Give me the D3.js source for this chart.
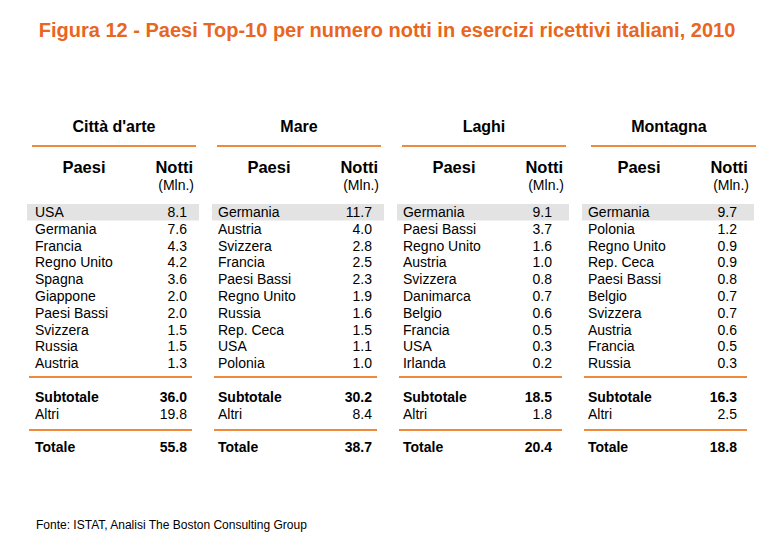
<!DOCTYPE html>
<html><head><meta charset="utf-8">
<script src="https://cdn.jsdelivr.net/npm/d3@7"></script>
<style>body{margin:0;background:#fff}svg{display:block;font-family:"Liberation Sans",Arial,sans-serif}</style>
</head><body>
<svg id="c" width="780" height="540"></svg>
<script>
const title = "Figura 12 - Paesi Top-10 per numero notti in esercizi ricettivi italiani, 2010";
const source = "Fonte: ISTAT, Analisi The Boston Consulting Group";
const panels = ["Città d'arte", "Mare", "Laghi", "Montagna"];
const countries = [
  ["USA","Germania","Francia","Regno Unito","Spagna","Giappone","Paesi Bassi","Svizzera","Russia","Austria"],
  ["Germania","Austria","Svizzera","Francia","Paesi Bassi","Regno Unito","Russia","Rep. Ceca","USA","Polonia"],
  ["Germania","Paesi Bassi","Regno Unito","Austria","Svizzera","Danimarca","Belgio","Francia","USA","Irlanda"],
  ["Germania","Polonia","Regno Unito","Rep. Ceca","Paesi Bassi","Belgio","Svizzera","Austria","Francia","Russia"]
];
const values = [
  [8.1,7.6,4.3,4.2,3.6,2.0,2.0,1.5,1.5,1.3],
  [11.7,4.0,2.8,2.5,2.3,1.9,1.6,1.5,1.1,1.0],
  [9.1,3.7,1.6,1.0,0.8,0.7,0.6,0.5,0.3,0.2],
  [9.7,1.2,0.9,0.9,0.8,0.7,0.7,0.6,0.5,0.3]
];
const subtotals = [36.0,30.2,18.5,16.3];
const altri = [19.8,8.4,1.8,2.5];
const totals = [55.8,38.7,20.4,18.8];

const svg = d3.select("#c");
const orange = "#EE8A3A";
const fmt = d3.format(".1f");
const labelX = [8,6,6,6];
const valueX = [160,160,155,155];

svg.append("text").attr("x",387).attr("y",37).attr("text-anchor","middle")
  .attr("font-size",20).attr("font-weight","bold").attr("fill","#E8661E").text(title);

const xP = d3.scaleBand().domain(d3.range(panels.length)).range([27,754]).paddingInner(0.07).paddingOuter(0);
const yR = d3.scaleLinear().domain([0,1]).range([212,228.8]);

const g = svg.selectAll("g.p").data(panels).join("g").attr("class","p")
  .attr("transform",(d,i)=>`translate(${xP(i)},0)`);
const w = xP.bandwidth();

g.append("text").attr("x",87).attr("y",131.5).attr("text-anchor","middle")
  .attr("font-size",16).attr("font-weight","bold").attr("fill","#000").text(d=>d);
g.append("line").attr("x1",(d,i)=>i===3?9:5).attr("x2",(d,i)=>i===3?w+2:w-3).attr("y1",146).attr("y2",146)
  .attr("stroke",orange).attr("stroke-width",2.2);
g.append("text").attr("x",57).attr("y",172.5).attr("text-anchor","middle")
  .attr("font-size",16.5).attr("font-weight","bold").text("Paesi");
g.append("text").attr("x",166).attr("y",172.5).attr("text-anchor","end")
  .attr("font-size",16.5).attr("font-weight","bold").text("Notti");
g.append("text").attr("x",167).attr("y",190).attr("text-anchor","end")
  .attr("font-size",14).text("(Mln.)");

g.append("rect").attr("x",0).attr("width",w).attr("y",yR(0)-8).attr("height",16.5).attr("fill","#e3e3e3");

g.each(function(d,i){
  const sel = d3.select(this);
  const rows = countries[i].map((c,j)=>({c, v: values[i][j], j}));
  sel.selectAll("text.c").data(rows).join("text").attr("class","c")
    .attr("x",labelX[i]).attr("y",r=>yR(r.j)+5).attr("font-size",14).text(r=>r.c);
  sel.selectAll("text.v").data(rows).join("text").attr("class","v")
    .attr("x",valueX[i]).attr("y",r=>yR(r.j)+5).attr("text-anchor","end").attr("font-size",14).text(r=>fmt(r.v));
  const summary = [
    {c:"Subtotale", v:subtotals[i], y:397, b:true},
    {c:"Altri", v:altri[i], y:413.5, b:false},
    {c:"Totale", v:totals[i], y:447, b:true}
  ];
  summary.forEach(s=>{
    sel.append("text").attr("x",labelX[i]).attr("y",s.y+5).attr("font-size",14)
      .attr("font-weight",s.b?"bold":"normal").text(s.c);
    sel.append("text").attr("x",valueX[i]).attr("y",s.y+5).attr("text-anchor","end").attr("font-size",14)
      .attr("font-weight",s.b?"bold":"normal").text(fmt(s.v));
  });
  [377,430].forEach(y=>{
    sel.append("line").attr("x1",2).attr("x2",w-7).attr("y1",y).attr("y2",y)
      .attr("stroke",orange).attr("stroke-width",2.2);
  });
});

svg.append("text").attr("x",36).attr("y",529).attr("font-size",12).attr("fill","#000").text(source);
</script>
</body></html>
